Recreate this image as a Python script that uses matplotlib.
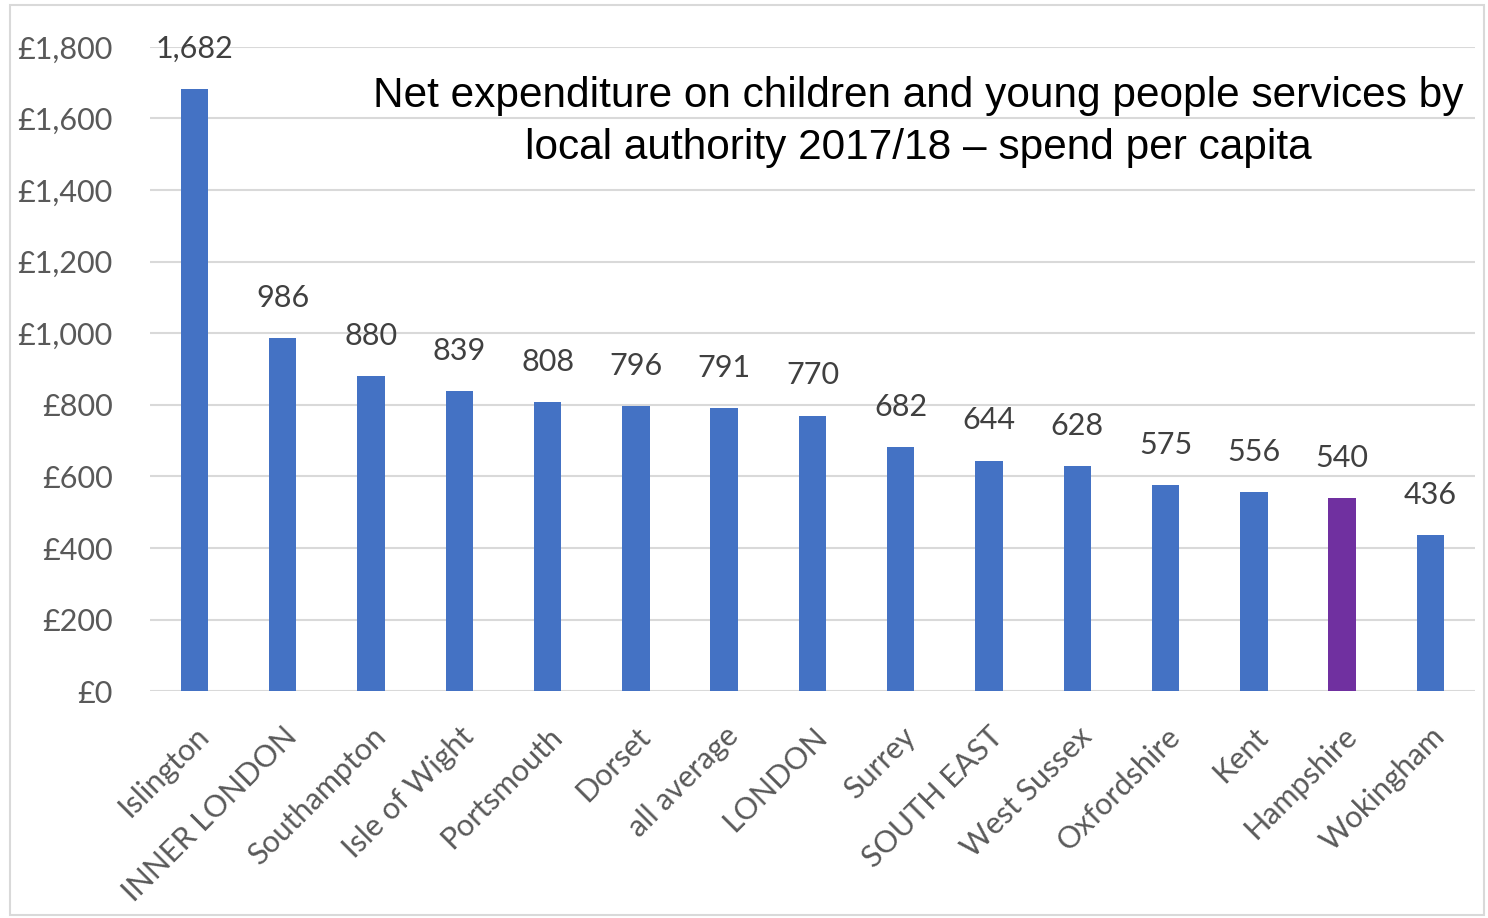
import matplotlib.pyplot as plt
from matplotlib.patches import Rectangle
from matplotlib.ticker import FuncFormatter

# values
areas = ["Islington", "INNER LONDON", "Southampton", "Isle of Wight", "Portsmouth",
         "Dorset", "all average", "LONDON", "Surrey", "SOUTH EAST", "West Sussex",
         "Oxfordshire", "Kent", "Hampshire", "Wokingham"]
spend = [1682, 986, 880, 839, 808, 796, 791, 770, 682, 644, 628, 575, 556, 540, 436]
highlight = "Hampshire"

blue = "#4472C4"
purple = "#7030A0"
colors = [purple if a == highlight else blue for a in areas]

plt.rcParams["font.family"] = ["Lato", "DejaVu Sans"]

fig = plt.figure(figsize=(14.88, 9.18), dpi=100)
ax = fig.add_axes([0.101, 0.247, 0.890, 0.702])

x = range(len(areas))
bars = ax.bar(x, spend, width=0.31, color=colors, zorder=3)

for xi, v in zip(x, spend):
    ax.annotate(f"{v:,}", (xi, v), xytext=(0, 29), textcoords="offset points",
                ha="center", va="center", fontsize=22, color="#404040")

ax.set_ylim(0, 1800)
ax.set_xlim(-0.5, len(areas) - 0.5)
ax.set_yticks(range(0, 1801, 200))
ax.yaxis.set_major_formatter(FuncFormatter(lambda v, p: f"£{int(v):,}"))
ax.grid(axis="y", color="#d9d9d9", linewidth=1.5, zorder=0)
for s in ax.spines.values():
    s.set_visible(False)
ax.tick_params(axis="y", length=0, pad=27, labelsize=22, labelcolor="#595959")
ax.tick_params(axis="x", length=0, pad=22, labelsize=22, labelcolor="#595959")
ax.set_xticks(list(x))
ax.set_xticklabels(areas, rotation=45, ha="right", rotation_mode="anchor")

ax.text(0.58, 0.955, "Net expenditure on children and young people services by\n"
        "local authority 2017/18 \u2013 spend per capita",
        transform=ax.transAxes, ha="center", va="top", fontsize=30.5,
        family=["Liberation Sans", "DejaVu Sans"], linespacing=1.4)

fig.patches.append(Rectangle((0.007, 0.003), 0.99, 0.992, transform=fig.transFigure,
                             fill=False, edgecolor="#d9d9d9", linewidth=1.5))

fig.savefig("out.png", dpi=100)
